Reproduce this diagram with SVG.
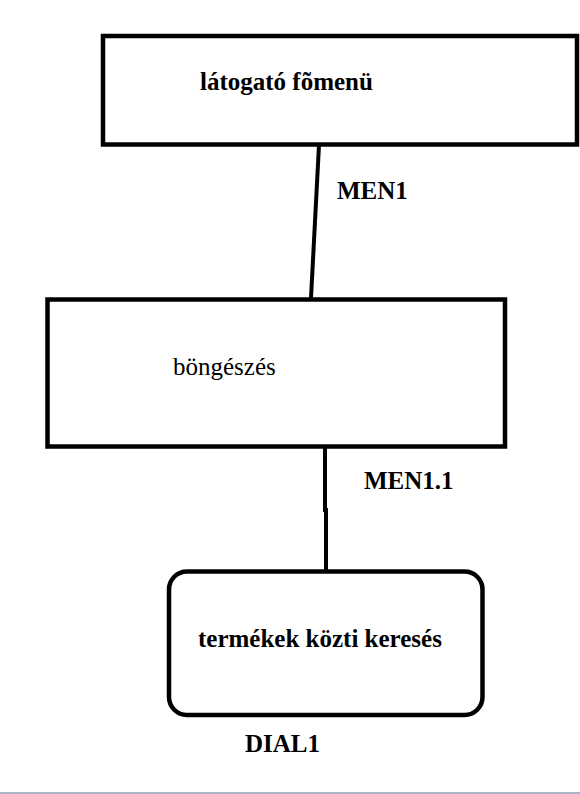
<svg xmlns="http://www.w3.org/2000/svg" width="580" height="794" viewBox="0 0 580 794">
<style>
.box{fill:#fff;stroke:#000;stroke-width:4.5}
.con{fill:none;stroke:#000;stroke-width:4}
text{font-family:'Liberation Serif','Times New Roman',serif;font-size:25px;fill:#000}
.b{font-weight:bold}
</style>
<rect x="0" y="0" width="580" height="794" fill="#fff"/>
<g id="connectors">
<path class="con" d="M319,145 L311,298"/>
<path class="con" d="M325,448 L325,510 L326,510 L326,571"/>
</g>
<g id="node-fomenu">
<rect class="box" x="103" y="36" width="474" height="108.5"/>
<text class="b" x="200" y="90">látogató fõmenü</text>
</g>
<g id="label-men1">
<text class="b" x="337" y="199">MEN1</text>
</g>
<g id="node-bongeszes">
<rect class="box" x="47.5" y="299.5" width="457.5" height="147"/>
<text x="173" y="375" font-size="26">böngészés</text>
</g>
<g id="label-men11">
<text class="b" x="364" y="489" font-size="24">MEN1.1</text>
</g>
<g id="node-kereses">
<rect class="box" x="169" y="571.5" width="313.5" height="143.5" rx="18" ry="18"/>
<text class="b" x="198" y="647">termékek közti keresés</text>
</g>
<g id="label-dial1">
<text class="b" x="245" y="752">DIAL1</text>
</g>
<rect x="0" y="792" width="580" height="2" fill="#a9b4c6"/>
</svg>
